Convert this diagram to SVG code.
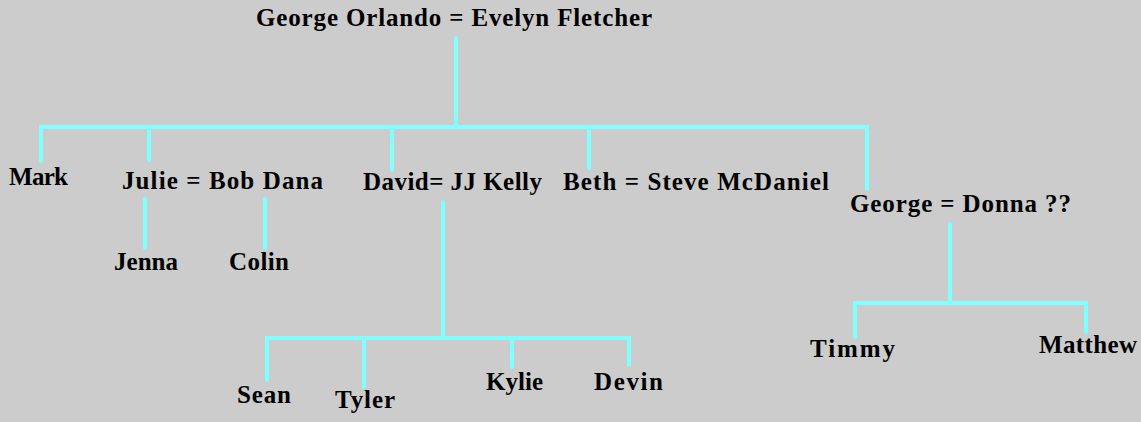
<svg xmlns="http://www.w3.org/2000/svg" width="1141" height="422" viewBox="0 0 1141 422">
<style>
.bg{fill:#cccccc}
.lbl{font-family:"Liberation Serif","Times New Roman",serif;font-weight:bold;font-size:25px;fill:#000000}
.ln{fill:none;stroke:#7fffff;stroke-width:4;stroke-linecap:round;stroke-linejoin:miter}
</style>
<rect class="bg" x="0" y="0" width="1141" height="422"/>
<g id="connectors">
<path class="ln" d="M456,38 V127"/>
<path class="ln" d="M41,161 V127 H867 V189"/>
<path class="ln" d="M149,127 V160"/>
<path class="ln" d="M392,127 V170"/>
<path class="ln" d="M589,127 V168"/>
<path class="ln" d="M145,199 V248"/>
<path class="ln" d="M265,199 V248"/>
<path class="ln" d="M443,202 V338"/>
<path class="ln" d="M267,380 V338 H629 V365"/>
<path class="ln" d="M364,338 V387"/>
<path class="ln" d="M512,338 V367"/>
<path class="ln" d="M950,224 V303"/>
<path class="ln" d="M855,337 V303 H1086 V332"/>
</g>
<g id="george-evelyn"><text class="lbl" x="256" y="26" textLength="396">George Orlando = Evelyn Fletcher</text></g>
<g id="mark"><text class="lbl" x="9" y="185" textLength="59">Mark</text></g>
<g id="julie-bob"><text class="lbl" x="122" y="189" textLength="201">Julie = Bob Dana</text></g>
<g id="david-jj"><text class="lbl" x="363" y="190" textLength="179">David= JJ Kelly</text></g>
<g id="beth-steve"><text class="lbl" x="563" y="190" textLength="266">Beth = Steve McDaniel</text></g>
<g id="george-donna"><text class="lbl" x="850" y="212" textLength="221">George = Donna ??</text></g>
<g id="jenna"><text class="lbl" x="114" y="270" textLength="64">Jenna</text></g>
<g id="colin"><text class="lbl" x="229" y="270" textLength="60">Colin</text></g>
<g id="sean"><text class="lbl" x="237" y="403" textLength="54">Sean</text></g>
<g id="tyler"><text class="lbl" x="335" y="408" textLength="60">Tyler</text></g>
<g id="kylie"><text class="lbl" x="486" y="390" textLength="57">Kylie</text></g>
<g id="devin"><text class="lbl" x="594" y="390" textLength="69">Devin</text></g>
<g id="timmy"><text class="lbl" x="810" y="357" textLength="85">Timmy</text></g>
<g id="matthew"><text class="lbl" x="1039" y="353" textLength="98">Matthew</text></g>
</svg>
